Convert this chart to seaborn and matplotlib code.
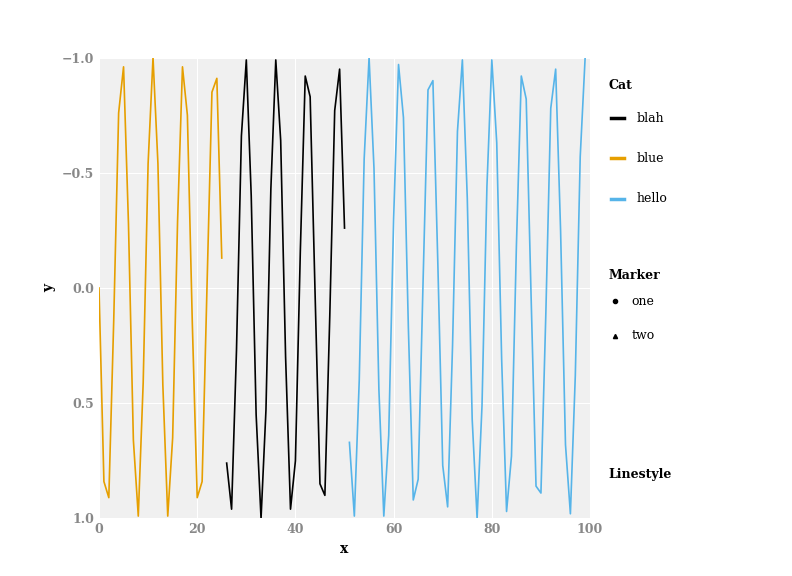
import matplotlib
matplotlib.use("Agg")
import matplotlib.pyplot as plt
from matplotlib.lines import Line2D
import seaborn as sns
import pandas as pd
import numpy as np

y_vals = [0.00,0.84,0.91,0.14,-0.76,-0.96,-0.28,0.66,0.99,0.41,
 -0.54,-1.00,-0.54,0.42,0.99,0.65,-0.29,-0.96,-0.75,0.15,
 0.91,0.84,-0.01,-0.85,-0.91,-0.13,0.76,0.96,0.27,-0.66,
 -0.99,-0.40,0.55,1.00,0.53,-0.43,-0.99,-0.64,0.30,0.96,
 0.75,-0.16,-0.92,-0.83,0.02,0.85,0.90,0.12,-0.77,-0.95,
 -0.26,0.67,0.99,0.40,-0.56,-1.00,-0.52,0.44,0.99,0.64,
 -0.30,-0.97,-0.74,0.17,0.92,0.83,-0.03,-0.86,-0.90,-0.11,
 0.77,0.95,0.25,-0.68,-0.99,-0.39,0.57,1.00,0.51,-0.44,
 -0.99,-0.63,0.31,0.97,0.73,-0.18,-0.92,-0.82,0.04,0.86,
 0.89,0.11,-0.78,-0.95,-0.25,0.68,0.98,0.38,-0.57,-1.00]
x_vals = list(range(100))
cats = ["blue"]*26 + ["blah"]*25 + ["hello"]*49
cat_order = ["blah", "blue", "hello"]
cat_colors = {"blah": "#000000", "blue": "#E69F00", "hello": "#56B4E9"}

df = pd.DataFrame({"x": x_vals, "y": y_vals, "Cat": cats})

plt.rcParams['font.family'] = ['DejaVu Serif']
fig = plt.figure(figsize=(7.92, 5.76), dpi=100)
ax = fig.add_axes([0.125, 0.1, 0.62, 0.8])
ax.set_facecolor("#f0f0f0")
sns.lineplot(data=df, x="x", y="y", hue="Cat", hue_order=cat_order,
             palette=cat_colors, ax=ax, legend=False, linewidth=1.2, estimator=None)
ax.set_xlim(0, 100)
ax.set_ylim(1, -1)
ax.set_xticks([0, 20, 40, 60, 80, 100])
ax.set_yticks([-1.0, -0.5, 0.0, 0.5, 1.0])
ax.set_yticklabels(["\u22121.0", "\u22120.5", "0.0", "0.5", "1.0"])
ax.grid(True, color="white", linewidth=0.8)
ax.set_axisbelow(True)
for s in ax.spines.values():
    s.set_visible(False)
ax.tick_params(colors="#888888", labelsize=9, length=0)
for lab in ax.get_xticklabels() + ax.get_yticklabels():
    lab.set_fontweight("bold")
ax.set_xlabel("x", fontweight="bold", fontsize=10)
ax.set_ylabel("y", fontweight="bold", fontsize=10)

fig.text(0.768, 0.845, "Cat", fontweight="bold", fontsize=9)
for i, c in enumerate(cat_order):
    yy = 0.795 - i * 0.07
    fig.add_artist(Line2D([0.772, 0.788], [yy, yy], color=cat_colors[c], linewidth=2.5))
    fig.text(0.804, yy, c, fontsize=9, va="center")
fig.text(0.768, 0.515, "Marker", fontweight="bold", fontsize=9)
for i, (m, lab) in enumerate([("o", "one"), ("^", "two")]):
    yy = 0.477 - i * 0.06
    fig.add_artist(Line2D([0.777], [yy], marker=m, color="black", markersize=3, linestyle="none"))
    fig.text(0.797, yy, lab, fontsize=9, va="center")
fig.text(0.768, 0.17, "Linestyle", fontweight="bold", fontsize=9)

fig.savefig("out.png", dpi=100)
